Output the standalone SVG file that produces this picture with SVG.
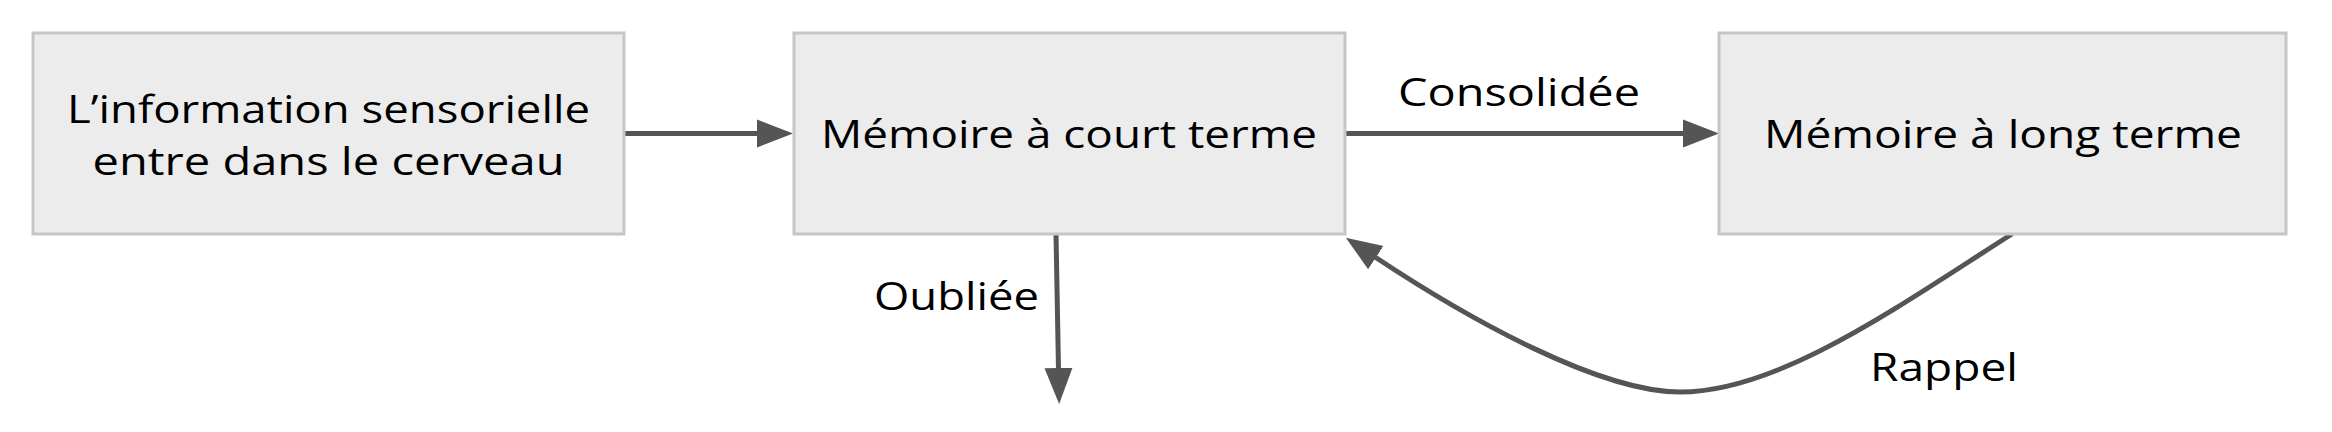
<svg xmlns="http://www.w3.org/2000/svg" width="2332" height="432" viewBox="0 0 2332 432">
<defs>
<style>
.box{fill:#ececec;stroke:#c6c6c6;stroke-width:3}
.t{font-family:"Open Sans","Noto Sans","Liberation Sans",sans-serif;font-size:39px;fill:#000;text-anchor:middle}
.c{fill:none;stroke:#555555;stroke-width:5}
</style>
<marker id="ah" markerUnits="userSpaceOnUse" markerWidth="40" markerHeight="30" viewBox="0 -15 40 30" refX="1" refY="0" orient="auto">
<path d="M0,-14 L36,0 L0,14 Z" fill="#555555"/>
</marker>
</defs>
<rect width="2332" height="432" fill="#ffffff"/>
<g id="connectors">
<path class="c" d="M624,133.5 L758,133.5" marker-end="url(#ah)"/>
<path class="c" d="M1345,133.5 L1684,133.5" marker-end="url(#ah)"/>
<path class="c" d="M1056,234 L1058.5,369" marker-end="url(#ah)"/>
<path class="c" d="M2012,234 C1900,305 1780,392 1680,392 C1600,392 1470,320 1375,257" marker-end="url(#ah)"/>
<text class="t" x="1519" y="106" textLength="242" lengthAdjust="spacingAndGlyphs">Consolidée</text>
<text class="t" x="956.5" y="310" textLength="165" lengthAdjust="spacingAndGlyphs">Oubliée</text>
<text class="t" x="1944" y="381" textLength="148" lengthAdjust="spacingAndGlyphs">Rappel</text>
</g>
<g id="node-sensorielle">
<rect class="box" x="33" y="33" width="591" height="201"/>
<text class="t" x="328.5" y="123" textLength="523" lengthAdjust="spacingAndGlyphs">L’information sensorielle</text>
<text class="t" x="328.5" y="175" textLength="472" lengthAdjust="spacingAndGlyphs">entre dans le cerveau</text>
</g>
<g id="node-court-terme">
<rect class="box" x="794" y="33" width="551" height="201"/>
<text class="t" x="1069" y="148" textLength="496" lengthAdjust="spacingAndGlyphs">Mémoire à court terme</text>
</g>
<g id="node-long-terme">
<rect class="box" x="1719" y="33" width="567" height="201"/>
<text class="t" x="2003" y="148" textLength="478" lengthAdjust="spacingAndGlyphs">Mémoire à long terme</text>
</g>
</svg>
